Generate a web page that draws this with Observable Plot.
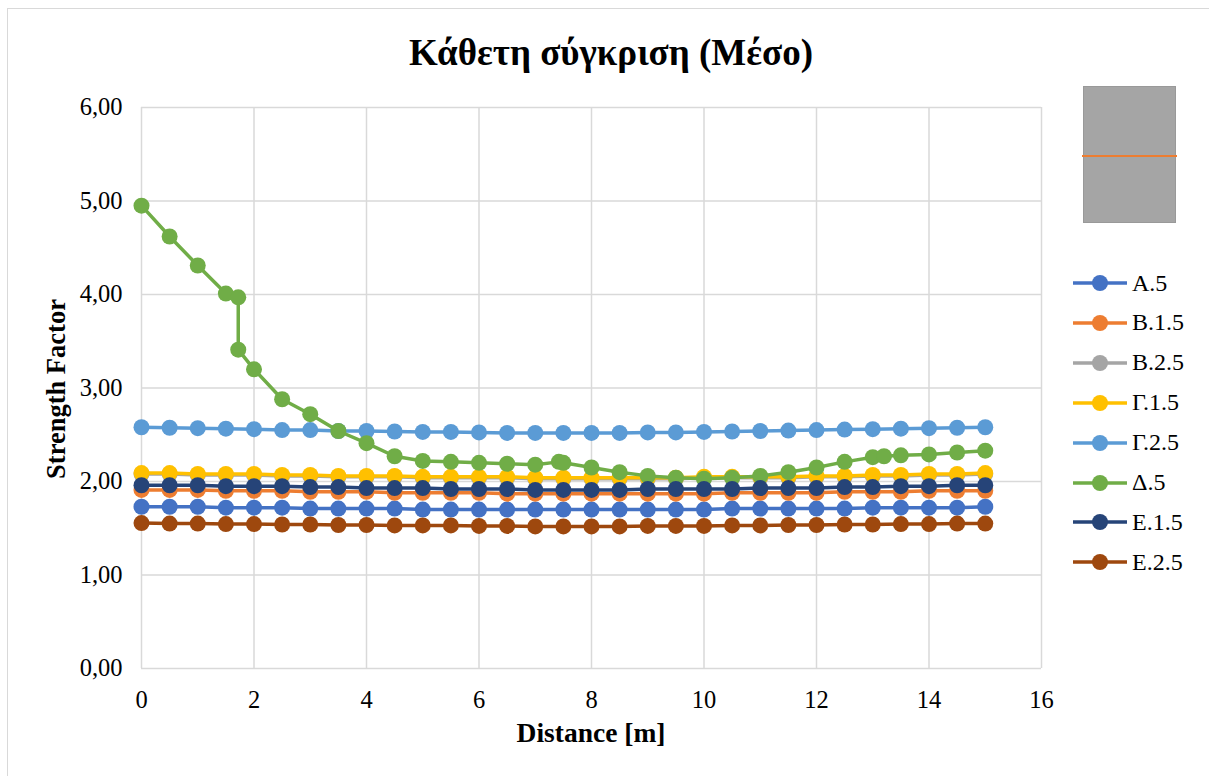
<!DOCTYPE html>
<html>
<head>
<meta charset="utf-8">
<script src="https://cdn.jsdelivr.net/npm/d3@7"></script>
<script src="https://cdn.jsdelivr.net/npm/@observablehq/plot@0.6"></script>
<style>
  html, body { margin:0; padding:0; background:#fff; }
  body { width:1209px; height:776px; overflow:hidden; position:relative; font-family:"Liberation Serif","Times New Roman",serif; }
  #frame { position:absolute; left:7px; top:8px; width:1300px; height:900px; border:1.5px solid #d9d9d9; box-sizing:border-box; }
  #chart { position:absolute; left:0; top:0; }
  #chart svg text { font-family:"Liberation Serif","Times New Roman",serif !important; font-size:24.5px !important; fill:#000; }
  .abs { position:absolute; white-space:nowrap; color:#000; }
  #title { left:0; width:1222px; text-align:center; top:34px; font-size:37px; font-weight:bold; line-height:1; }
  #xlabel { left:0; width:1182px; text-align:center; top:719px; font-size:27.5px; font-weight:bold; line-height:1; }
  #ylabel { left:56px; top:389px; font-size:26.5px; font-weight:bold; line-height:1; transform:translate(-50%,-50%) rotate(-90deg); }
  #box { position:absolute; left:1083px; top:86px; width:93px; height:137px; background:#a5a5a5; border:1px solid #999; box-sizing:border-box; }
  #boxline { position:absolute; left:1082px; top:155px; width:95px; height:2px; background:#ed7d31; }
  .leg { position:absolute; left:1073px; height:28px; display:flex; align-items:center; font-size:24px; }
  .leg span { margin-left:5px; }
</style>
</head>
<body>
<div id="frame"></div>
<div id="chart"></div>
<div id="title" class="abs">Κάθετη σύγκριση (Μέσο)</div>
<div id="xlabel" class="abs">Distance [m]</div>
<div id="ylabel" class="abs">Strength Factor</div>
<div id="box"></div>
<div id="boxline"></div>
<div id="legend"></div>
<script>
// ---- data ----
const seriesNames = ["A.5", "B.1.5", "B.2.5", "Γ.1.5", "Γ.2.5", "Δ.5", "Ε.1.5", "Ε.2.5"];
const seriesColors = ["#4472C4", "#ED7D31", "#A5A5A5", "#FFC000", "#5B9BD5", "#70AD47", "#264478", "#9E480E"];

const distance = [0,0.5,1,1.5,2,2.5,3,3.5,4,4.5,5,5.5,6,6.5,7,7.5,8,8.5,9,9.5,10,10.5,11,11.5,12,12.5,13,13.5,14,14.5,15];

const A5   = [1.73,1.73,1.73,1.72,1.72,1.72,1.71,1.71,1.71,1.71,1.70,1.70,1.70,1.70,1.70,1.70,1.70,1.70,1.70,1.70,1.70,1.71,1.71,1.71,1.71,1.71,1.72,1.72,1.72,1.72,1.73];
const B15  = [1.91,1.91,1.91,1.90,1.90,1.90,1.89,1.89,1.89,1.88,1.88,1.88,1.88,1.87,1.87,1.87,1.87,1.87,1.87,1.87,1.87,1.88,1.88,1.88,1.88,1.89,1.89,1.89,1.90,1.90,1.90];
const B25  = [2.08,2.08,2.07,2.07,2.07,2.06,2.06,2.05,2.05,2.05,2.04,2.04,2.04,2.04,2.03,2.03,2.03,2.03,2.03,2.03,2.04,2.04,2.04,2.04,2.05,2.05,2.06,2.06,2.07,2.07,2.08];
const G15  = [2.09,2.09,2.08,2.08,2.08,2.07,2.07,2.06,2.06,2.06,2.05,2.05,2.05,2.05,2.04,2.04,2.04,2.04,2.04,2.04,2.05,2.05,2.05,2.05,2.06,2.06,2.07,2.07,2.08,2.08,2.09];
const G25  = [2.58,2.575,2.57,2.565,2.56,2.55,2.55,2.54,2.54,2.535,2.53,2.53,2.525,2.52,2.52,2.52,2.52,2.52,2.525,2.525,2.53,2.535,2.54,2.545,2.55,2.555,2.56,2.565,2.57,2.575,2.58];
const E15  = [1.96,1.96,1.96,1.95,1.95,1.95,1.94,1.94,1.93,1.93,1.93,1.92,1.92,1.92,1.91,1.91,1.91,1.91,1.92,1.92,1.92,1.92,1.93,1.93,1.93,1.94,1.94,1.95,1.95,1.96,1.96];
const E25  = [1.555,1.55,1.55,1.545,1.545,1.54,1.54,1.535,1.535,1.53,1.53,1.53,1.525,1.525,1.52,1.52,1.52,1.52,1.525,1.525,1.525,1.53,1.53,1.535,1.535,1.54,1.54,1.545,1.545,1.55,1.55];

const deltaDistance = [0,0.5,1,1.5,1.72,1.72,2,2.5,3,3.5,4,4.5,5,5.5,6,6.5,7,7.42,7.5,8,8.5,9,9.5,10,10.5,11,11.5,12,12.5,13,13.2,13.5,14,14.5,15];
const D5 = [4.95,4.62,4.31,4.01,3.97,3.41,3.20,2.88,2.72,2.54,2.41,2.27,2.22,2.21,2.20,2.19,2.18,2.21,2.20,2.15,2.10,2.06,2.04,2.03,2.04,2.06,2.10,2.15,2.21,2.26,2.27,2.28,2.29,2.31,2.33];

const xTicks = [0,2,4,6,8,10,12,14,16];
const yTicks = [0,1,2,3,4,5,6];

// ---- build table ----
const seriesX = [distance, distance, distance, distance, distance, deltaDistance, distance, distance];
const seriesY = [A5, B15, B25, G15, G25, D5, E15, E25];
const rows = [];
seriesNames.forEach((name, i) => {
  seriesY[i].forEach((v, j) => rows.push({series: name, x: seriesX[i][j], y: v}));
});

const marks = [
  Plot.ruleX(xTicks, {stroke:"#d9d9d9", strokeWidth:1.5}),
  Plot.ruleY(yTicks, {stroke:"#d9d9d9", strokeWidth:1.5}),
];
seriesNames.forEach(name => {
  const d = rows.filter(r => r.series === name);
  marks.push(Plot.line(d, {x:"x", y:"y", stroke:"series", strokeWidth:3.5}));
  marks.push(Plot.dot(d, {x:"x", y:"y", fill:"series", r:8}));
});

const chart = Plot.plot({
  width:1209, height:776,
  marginLeft:141, marginRight:168, marginTop:107, marginBottom:108,
  style:{fontFamily:"'Liberation Serif','Times New Roman',serif", fontSize:"24.5px", color:"#000", background:"transparent", overflow:"visible"},
  x:{domain:[0,16], ticks:xTicks, tickSize:0, tickPadding:22, label:null},
  y:{domain:[0,6], ticks:yTicks, tickSize:0, tickPadding:19, label:null, tickFormat:d => d.toFixed(2).replace(".", ",")},
  color:{domain:seriesNames, range:seriesColors},
  marks
});
document.getElementById("chart").appendChild(chart);

// ---- legend ----
const legend = document.getElementById("legend");
seriesNames.forEach((name, i) => {
  const item = document.createElement("div");
  item.className = "leg";
  item.style.top = (283 - 14 + i * 39.9) + "px";
  item.innerHTML = `<svg width="54" height="20"><line x1="0" x2="54" y1="10" y2="10" stroke="${seriesColors[i]}" stroke-width="3.5"/><circle cx="27" cy="10" r="8" fill="${seriesColors[i]}"/></svg><span>${name}</span>`;
  legend.appendChild(item);
});
</script>
</body>
</html>
